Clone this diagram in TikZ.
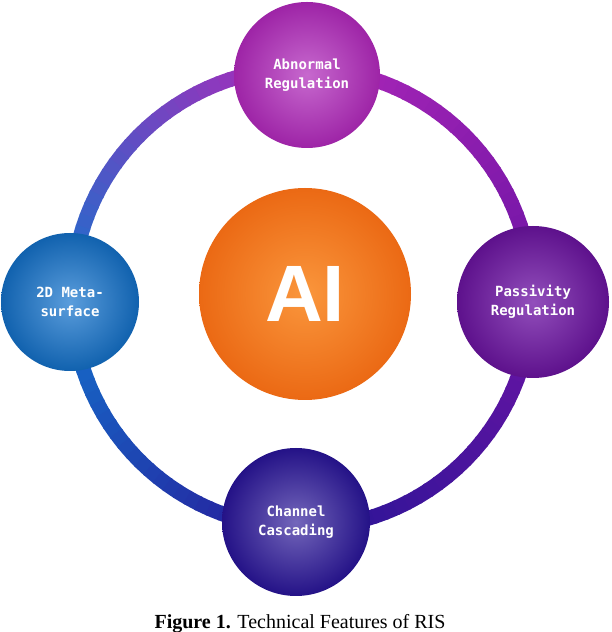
\documentclass[tikz,border=0pt]{standalone}
\usepackage{fontspec}
\setmainfont{Liberation Serif}
\newfontfamily\labfont{DejaVu Sans Mono}
\newfontfamily\bigfont{Liberation Sans}
\definecolor{cT}{RGB}{175,40,185}
\definecolor{cR}{RGB}{110,20,165}
\definecolor{cB}{RGB}{40,20,150}
\definecolor{cL}{RGB}{20,115,205}
\tikzset{feat/.style={circle,minimum size=#1,text=white,align=center,font=\labfont\bfseries\fontsize{14}{19}\selectfont},
 seg/.style={line width=15pt}}
\begin{document}
\begin{tikzpicture}[x=1pt,y=1pt]
\useasboundingbox (0,0) rectangle (612,632);
\clip (0,0) rectangle (612,632);
\fill[white] (0,0) rectangle (612,632);
\coordinate (o) at (302,334);
\foreach \a in {0,3,...,87}{\pgfmathsetmacro\p{100*\a/90}
 \draw[seg,color=cT!\p!cR] (o) ++(\a:230) arc[start angle=\a,end angle=\a+3.5,radius=230];}
\foreach \a in {90,93,...,177}{\pgfmathsetmacro\p{100*(\a-90)/90}
 \draw[seg,color=cL!\p!cT] (o) ++(\a:230) arc[start angle=\a,end angle=\a+3.5,radius=230];}
\foreach \a in {180,183,...,267}{\pgfmathsetmacro\p{100*(\a-180)/90}
 \draw[seg,color=cB!\p!cL] (o) ++(\a:230) arc[start angle=\a,end angle=\a+3.5,radius=230];}
\foreach \a in {270,273,...,357}{\pgfmathsetmacro\p{100*(\a-270)/90}
 \draw[seg,color=cR!\p!cB] (o) ++(\a:230) arc[start angle=\a,end angle=\a+3.5,radius=230];}
\node[feat=146pt,inner color=cT!70!white,outer color=cT!90!black] (top) at (307,557) {Abnormal\\Regulation};
\node[feat=138pt,inner color=cL!70!white,outer color=cL!85!black] (left) at (70,330) {2D Meta-\\surface};
\node[feat=152pt,inner color=cR!75!white,outer color=cR!85!black] (right) at (533,330) {Passivity\\Regulation};
\node[feat=148pt,inner color=cB!65!white,outer color=cB!90!black] (bot) at (296,110) {Channel\\Cascading};
\node[circle,minimum size=212pt,inner color={rgb,255:red,250;green,150;blue,60},outer color={rgb,255:red,235;green,105;blue,20},text=white,font=\bigfont\bfseries\fontsize{80}{80}\selectfont] (ai) at (305,338) {AI};
\node[font=\fontsize{20}{22}\selectfont,anchor=base] (cap) at (300,4) {\textbf{Figure 1.} Technical Features of RIS};
\end{tikzpicture}
\end{document}
